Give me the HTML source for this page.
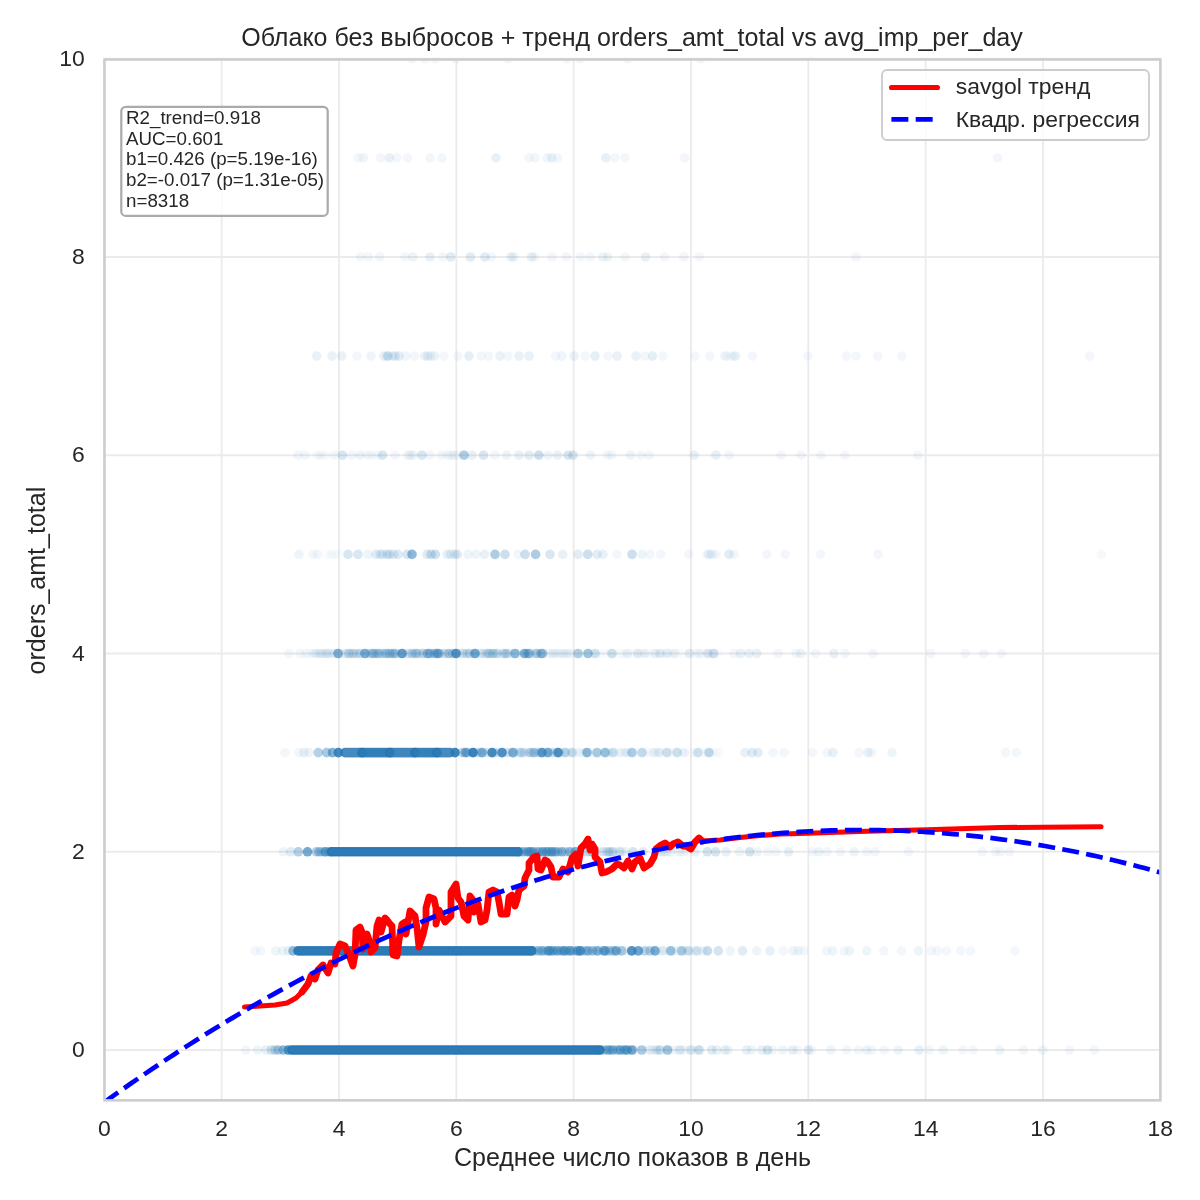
<!DOCTYPE html><html><head><meta charset="utf-8"><style>html,body{margin:0;padding:0;background:#fff;width:1200px;height:1200px;overflow:hidden}svg{display:block;will-change:transform}text{font-family:"Liberation Sans",sans-serif;fill:#262626}</style></head><body>
<svg width="1200" height="1200" viewBox="0 0 1200 1200">
<defs><clipPath id="ax"><rect x="104.45" y="59.50" width="1055.95" height="1040.85"/></clipPath></defs>
<path d="M104.33 59.50V1100.35M221.66 59.50V1100.35M339.00 59.50V1100.35M456.33 59.50V1100.35M573.67 59.50V1100.35M691.00 59.50V1100.35M808.33 59.50V1100.35M925.67 59.50V1100.35M1043.00 59.50V1100.35M1160.34 59.50V1100.35M104.45 1050.00H1160.40M104.45 851.75H1160.40M104.45 653.50H1160.40M104.45 455.25H1160.40M104.45 257.00H1160.40M104.45 58.75H1160.40" stroke="#ebebeb" stroke-width="1.8" fill="none"/>
<g clip-path="url(#ax)">
<g fill="#2c7bb6"><circle cx="245.8" cy="1050.0" r="4.8" fill-opacity="0.060"/><circle cx="257.5" cy="1050.0" r="4.8" fill-opacity="0.080"/><circle cx="265.8" cy="1050.0" r="4.8" fill-opacity="0.110"/><circle cx="271.3" cy="1050.0" r="4.8" fill-opacity="0.200"/><circle cx="275.0" cy="1050.0" r="4.8" fill-opacity="0.260"/><circle cx="278.3" cy="1050.0" r="4.8" fill-opacity="0.350"/><circle cx="283.3" cy="1050.0" r="4.8" fill-opacity="0.500"/><circle cx="288.3" cy="1050.0" r="4.8" fill-opacity="0.780"/><rect x="287.8" y="1045.8" width="316.4" height="8.4" rx="4.2" fill-opacity="1.000" stroke="#1f6fb0" stroke-opacity="0.800" stroke-width="1.2"/><circle cx="599.7" cy="1050.0" r="4.8" fill-opacity="0.311"/><circle cx="603.8" cy="1050.0" r="4.8" fill-opacity="0.343"/><circle cx="607.3" cy="1050.0" r="4.8" fill-opacity="0.464"/><circle cx="609.7" cy="1050.0" r="4.8" fill-opacity="0.418"/><circle cx="612.7" cy="1050.0" r="4.8" fill-opacity="0.535"/><circle cx="617.2" cy="1050.0" r="4.8" fill-opacity="0.414"/><circle cx="620.2" cy="1050.0" r="4.8" fill-opacity="0.528"/><circle cx="624.0" cy="1050.0" r="4.8" fill-opacity="0.481"/><circle cx="627.0" cy="1050.0" r="4.8" fill-opacity="0.622"/><circle cx="626.2" cy="1050.0" r="4.8" fill-opacity="0.043"/><circle cx="629.9" cy="1050.0" r="4.8" fill-opacity="0.024"/><circle cx="634.3" cy="1050.0" r="4.8" fill-opacity="0.027"/><circle cx="636.0" cy="1050.0" r="4.8" fill-opacity="0.025"/><circle cx="639.8" cy="1050.0" r="4.8" fill-opacity="0.024"/><circle cx="642.0" cy="1050.0" r="4.8" fill-opacity="0.044"/><circle cx="646.9" cy="1050.0" r="4.8" fill-opacity="0.029"/><circle cx="648.9" cy="1050.0" r="4.8" fill-opacity="0.026"/><circle cx="652.7" cy="1050.0" r="4.8" fill-opacity="0.048"/><circle cx="654.7" cy="1050.0" r="4.8" fill-opacity="0.041"/><circle cx="658.5" cy="1050.0" r="4.8" fill-opacity="0.032"/><circle cx="661.5" cy="1050.0" r="4.8" fill-opacity="0.026"/><circle cx="666.0" cy="1050.0" r="4.8" fill-opacity="0.031"/><circle cx="668.6" cy="1050.0" r="4.8" fill-opacity="0.027"/><circle cx="671.4" cy="1050.0" r="4.8" fill-opacity="0.035"/><circle cx="674.9" cy="1050.0" r="4.8" fill-opacity="0.045"/><circle cx="678.8" cy="1050.0" r="4.8" fill-opacity="0.051"/><circle cx="680.7" cy="1050.0" r="4.8" fill-opacity="0.053"/><circle cx="683.7" cy="1050.0" r="4.8" fill-opacity="0.038"/><circle cx="687.1" cy="1050.0" r="4.8" fill-opacity="0.036"/><circle cx="690.8" cy="1050.0" r="4.8" fill-opacity="0.046"/><circle cx="692.8" cy="1050.0" r="4.8" fill-opacity="0.036"/><circle cx="697.1" cy="1050.0" r="4.8" fill-opacity="0.047"/><circle cx="700.5" cy="1050.0" r="4.8" fill-opacity="0.039"/><circle cx="632.0" cy="1050.0" r="4.8" fill-opacity="0.650"/><circle cx="641.7" cy="1050.0" r="4.8" fill-opacity="0.350"/><circle cx="650.0" cy="1050.0" r="4.8" fill-opacity="0.080"/><circle cx="656.7" cy="1050.0" r="4.8" fill-opacity="0.140"/><circle cx="660.0" cy="1050.0" r="4.8" fill-opacity="0.200"/><circle cx="667.5" cy="1050.0" r="4.8" fill-opacity="0.420"/><circle cx="680.0" cy="1050.0" r="4.8" fill-opacity="0.080"/><circle cx="690.8" cy="1050.0" r="4.8" fill-opacity="0.110"/><circle cx="699.0" cy="1050.0" r="4.8" fill-opacity="0.200"/><circle cx="711.7" cy="1050.0" r="4.8" fill-opacity="0.140"/><circle cx="716.7" cy="1050.0" r="4.8" fill-opacity="0.110"/><circle cx="725.0" cy="1050.0" r="4.8" fill-opacity="0.110"/><circle cx="728.0" cy="1050.0" r="4.8" fill-opacity="0.080"/><circle cx="746.7" cy="1050.0" r="4.8" fill-opacity="0.110"/><circle cx="751.7" cy="1050.0" r="4.8" fill-opacity="0.080"/><circle cx="761.7" cy="1050.0" r="4.8" fill-opacity="0.110"/><circle cx="767.5" cy="1050.0" r="4.8" fill-opacity="0.200"/><circle cx="772.5" cy="1050.0" r="4.8" fill-opacity="0.060"/><circle cx="782.5" cy="1050.0" r="4.8" fill-opacity="0.080"/><circle cx="792.5" cy="1050.0" r="4.8" fill-opacity="0.110"/><circle cx="797.5" cy="1050.0" r="4.8" fill-opacity="0.060"/><circle cx="808.3" cy="1050.0" r="4.8" fill-opacity="0.140"/><circle cx="811.7" cy="1050.0" r="4.8" fill-opacity="0.060"/><circle cx="830.8" cy="1050.0" r="4.8" fill-opacity="0.080"/><circle cx="846.7" cy="1050.0" r="4.8" fill-opacity="0.060"/><circle cx="858.3" cy="1050.0" r="4.8" fill-opacity="0.060"/><circle cx="866.7" cy="1050.0" r="4.8" fill-opacity="0.080"/><circle cx="871.7" cy="1050.0" r="4.8" fill-opacity="0.060"/><circle cx="884.2" cy="1050.0" r="4.8" fill-opacity="0.060"/><circle cx="898.3" cy="1050.0" r="4.8" fill-opacity="0.080"/><circle cx="919.2" cy="1050.0" r="4.8" fill-opacity="0.110"/><circle cx="929.2" cy="1050.0" r="4.8" fill-opacity="0.060"/><circle cx="943.3" cy="1050.0" r="4.8" fill-opacity="0.080"/><circle cx="963.0" cy="1050.0" r="4.8" fill-opacity="0.060"/><circle cx="973.0" cy="1050.0" r="4.8" fill-opacity="0.060"/><circle cx="999.7" cy="1050.0" r="4.8" fill-opacity="0.080"/><circle cx="1023.3" cy="1050.0" r="4.8" fill-opacity="0.060"/><circle cx="1042.8" cy="1050.0" r="4.8" fill-opacity="0.080"/><circle cx="1069.5" cy="1050.0" r="4.8" fill-opacity="0.060"/><circle cx="1094.2" cy="1050.0" r="4.8" fill-opacity="0.060"/><circle cx="255.0" cy="950.9" r="4.8" fill-opacity="0.060"/><circle cx="260.8" cy="950.9" r="4.8" fill-opacity="0.060"/><circle cx="275.8" cy="950.9" r="4.8" fill-opacity="0.080"/><circle cx="282.5" cy="950.9" r="4.8" fill-opacity="0.080"/><circle cx="288.3" cy="950.9" r="4.8" fill-opacity="0.110"/><circle cx="293.0" cy="950.9" r="4.8" fill-opacity="0.500"/><rect x="293.8" y="946.7" width="242.4" height="8.4" rx="4.2" fill-opacity="1.000" stroke="#1f6fb0" stroke-opacity="0.800" stroke-width="1.2"/><circle cx="531.2" cy="950.9" r="4.8" fill-opacity="0.428"/><circle cx="535.4" cy="950.9" r="4.8" fill-opacity="0.334"/><circle cx="538.7" cy="950.9" r="4.8" fill-opacity="0.387"/><circle cx="542.0" cy="950.9" r="4.8" fill-opacity="0.485"/><circle cx="544.8" cy="950.9" r="4.8" fill-opacity="0.295"/><circle cx="548.2" cy="950.9" r="4.8" fill-opacity="0.628"/><circle cx="550.4" cy="950.9" r="4.8" fill-opacity="0.527"/><circle cx="553.4" cy="950.9" r="4.8" fill-opacity="0.558"/><circle cx="557.3" cy="950.9" r="4.8" fill-opacity="0.585"/><circle cx="561.2" cy="950.9" r="4.8" fill-opacity="0.461"/><circle cx="563.9" cy="950.9" r="4.8" fill-opacity="0.571"/><circle cx="566.2" cy="950.9" r="4.8" fill-opacity="0.454"/><circle cx="570.0" cy="950.9" r="4.8" fill-opacity="0.649"/><circle cx="573.1" cy="950.9" r="4.8" fill-opacity="0.371"/><circle cx="577.4" cy="950.9" r="4.8" fill-opacity="0.637"/><circle cx="580.0" cy="950.9" r="4.8" fill-opacity="0.540"/><circle cx="580.7" cy="950.9" r="4.8" fill-opacity="0.478"/><circle cx="584.1" cy="950.9" r="4.8" fill-opacity="0.258"/><circle cx="587.2" cy="950.9" r="4.8" fill-opacity="0.439"/><circle cx="589.0" cy="950.9" r="4.8" fill-opacity="0.267"/><circle cx="592.6" cy="950.9" r="4.8" fill-opacity="0.411"/><circle cx="596.9" cy="950.9" r="4.8" fill-opacity="0.484"/><circle cx="599.1" cy="950.9" r="4.8" fill-opacity="0.258"/><circle cx="603.7" cy="950.9" r="4.8" fill-opacity="0.460"/><circle cx="605.3" cy="950.9" r="4.8" fill-opacity="0.554"/><circle cx="609.3" cy="950.9" r="4.8" fill-opacity="0.380"/><circle cx="613.2" cy="950.9" r="4.8" fill-opacity="0.358"/><circle cx="616.2" cy="950.9" r="4.8" fill-opacity="0.551"/><circle cx="615.1" cy="950.9" r="4.8" fill-opacity="0.057"/><circle cx="619.0" cy="950.9" r="4.8" fill-opacity="0.041"/><circle cx="622.1" cy="950.9" r="4.8" fill-opacity="0.060"/><circle cx="625.6" cy="950.9" r="4.8" fill-opacity="0.058"/><circle cx="628.7" cy="950.9" r="4.8" fill-opacity="0.028"/><circle cx="632.0" cy="950.9" r="4.8" fill-opacity="0.064"/><circle cx="634.9" cy="950.9" r="4.8" fill-opacity="0.044"/><circle cx="638.2" cy="950.9" r="4.8" fill-opacity="0.049"/><circle cx="640.5" cy="950.9" r="4.8" fill-opacity="0.043"/><circle cx="644.4" cy="950.9" r="4.8" fill-opacity="0.048"/><circle cx="648.1" cy="950.9" r="4.8" fill-opacity="0.052"/><circle cx="650.7" cy="950.9" r="4.8" fill-opacity="0.045"/><circle cx="653.9" cy="950.9" r="4.8" fill-opacity="0.060"/><circle cx="657.7" cy="950.9" r="4.8" fill-opacity="0.057"/><circle cx="661.3" cy="950.9" r="4.8" fill-opacity="0.046"/><circle cx="662.7" cy="950.9" r="4.8" fill-opacity="0.029"/><circle cx="665.9" cy="950.9" r="4.8" fill-opacity="0.029"/><circle cx="669.5" cy="950.9" r="4.8" fill-opacity="0.055"/><circle cx="673.0" cy="950.9" r="4.8" fill-opacity="0.062"/><circle cx="677.1" cy="950.9" r="4.8" fill-opacity="0.055"/><circle cx="679.7" cy="950.9" r="4.8" fill-opacity="0.051"/><circle cx="683.5" cy="950.9" r="4.8" fill-opacity="0.028"/><circle cx="685.8" cy="950.9" r="4.8" fill-opacity="0.050"/><circle cx="689.8" cy="950.9" r="4.8" fill-opacity="0.029"/><circle cx="692.2" cy="950.9" r="4.8" fill-opacity="0.038"/><circle cx="695.1" cy="950.9" r="4.8" fill-opacity="0.038"/><circle cx="697.9" cy="950.9" r="4.8" fill-opacity="0.053"/><circle cx="701.9" cy="950.9" r="4.8" fill-opacity="0.060"/><circle cx="704.3" cy="950.9" r="4.8" fill-opacity="0.040"/><circle cx="621.7" cy="950.9" r="4.8" fill-opacity="0.350"/><circle cx="631.7" cy="950.9" r="4.8" fill-opacity="0.780"/><circle cx="638.3" cy="950.9" r="4.8" fill-opacity="0.650"/><circle cx="645.0" cy="950.9" r="4.8" fill-opacity="0.260"/><circle cx="650.0" cy="950.9" r="4.8" fill-opacity="0.260"/><circle cx="655.0" cy="950.9" r="4.8" fill-opacity="0.575"/><circle cx="663.3" cy="950.9" r="4.8" fill-opacity="0.080"/><circle cx="670.8" cy="950.9" r="4.8" fill-opacity="0.420"/><circle cx="681.7" cy="950.9" r="4.8" fill-opacity="0.350"/><circle cx="688.3" cy="950.9" r="4.8" fill-opacity="0.200"/><circle cx="696.7" cy="950.9" r="4.8" fill-opacity="0.140"/><circle cx="707.5" cy="950.9" r="4.8" fill-opacity="0.260"/><circle cx="718.3" cy="950.9" r="4.8" fill-opacity="0.200"/><circle cx="730.0" cy="950.9" r="4.8" fill-opacity="0.080"/><circle cx="742.5" cy="950.9" r="4.8" fill-opacity="0.140"/><circle cx="756.7" cy="950.9" r="4.8" fill-opacity="0.080"/><circle cx="770.0" cy="950.9" r="4.8" fill-opacity="0.110"/><circle cx="783.3" cy="950.9" r="4.8" fill-opacity="0.060"/><circle cx="793.3" cy="950.9" r="4.8" fill-opacity="0.080"/><circle cx="798.3" cy="950.9" r="4.8" fill-opacity="0.080"/><circle cx="803.5" cy="950.9" r="4.8" fill-opacity="0.060"/><circle cx="826.5" cy="950.9" r="4.8" fill-opacity="0.060"/><circle cx="832.7" cy="950.9" r="4.8" fill-opacity="0.080"/><circle cx="844.2" cy="950.9" r="4.8" fill-opacity="0.060"/><circle cx="849.4" cy="950.9" r="4.8" fill-opacity="0.080"/><circle cx="866.7" cy="950.9" r="4.8" fill-opacity="0.080"/><circle cx="883.8" cy="950.9" r="4.8" fill-opacity="0.060"/><circle cx="901.5" cy="950.9" r="4.8" fill-opacity="0.060"/><circle cx="918.5" cy="950.9" r="4.8" fill-opacity="0.080"/><circle cx="931.3" cy="950.9" r="4.8" fill-opacity="0.060"/><circle cx="937.2" cy="950.9" r="4.8" fill-opacity="0.060"/><circle cx="946.5" cy="950.9" r="4.8" fill-opacity="0.060"/><circle cx="960.5" cy="950.9" r="4.8" fill-opacity="0.060"/><circle cx="970.5" cy="950.9" r="4.8" fill-opacity="0.060"/><circle cx="1015.0" cy="950.9" r="4.8" fill-opacity="0.060"/><circle cx="283.3" cy="851.8" r="4.8" fill-opacity="0.080"/><circle cx="290.8" cy="851.8" r="4.8" fill-opacity="0.140"/><circle cx="298.3" cy="851.8" r="4.8" fill-opacity="0.350"/><circle cx="307.5" cy="851.8" r="4.8" fill-opacity="0.650"/><circle cx="316.1" cy="851.8" r="4.8" fill-opacity="0.332"/><circle cx="318.9" cy="851.8" r="4.8" fill-opacity="0.391"/><circle cx="321.4" cy="851.8" r="4.8" fill-opacity="0.247"/><circle cx="324.1" cy="851.8" r="4.8" fill-opacity="0.235"/><circle cx="325.4" cy="851.8" r="4.8" fill-opacity="0.599"/><circle cx="328.9" cy="851.8" r="4.8" fill-opacity="0.472"/><circle cx="331.1" cy="851.8" r="4.8" fill-opacity="0.330"/><rect x="327.5" y="847.6" width="194.7" height="8.4" rx="4.2" fill-opacity="1.000" stroke="#1f6fb0" stroke-opacity="0.800" stroke-width="1.2"/><circle cx="518.4" cy="851.8" r="4.8" fill-opacity="0.509"/><circle cx="521.1" cy="851.8" r="4.8" fill-opacity="0.324"/><circle cx="523.8" cy="851.8" r="4.8" fill-opacity="0.441"/><circle cx="527.9" cy="851.8" r="4.8" fill-opacity="0.606"/><circle cx="530.5" cy="851.8" r="4.8" fill-opacity="0.555"/><circle cx="532.9" cy="851.8" r="4.8" fill-opacity="0.497"/><circle cx="536.3" cy="851.8" r="4.8" fill-opacity="0.352"/><circle cx="539.2" cy="851.8" r="4.8" fill-opacity="0.445"/><circle cx="542.7" cy="851.8" r="4.8" fill-opacity="0.592"/><circle cx="546.4" cy="851.8" r="4.8" fill-opacity="0.514"/><circle cx="548.4" cy="851.8" r="4.8" fill-opacity="0.411"/><circle cx="551.4" cy="851.8" r="4.8" fill-opacity="0.525"/><circle cx="552.5" cy="851.8" r="4.8" fill-opacity="0.260"/><circle cx="555.1" cy="851.8" r="4.8" fill-opacity="0.464"/><circle cx="557.7" cy="851.8" r="4.8" fill-opacity="0.344"/><circle cx="561.8" cy="851.8" r="4.8" fill-opacity="0.491"/><circle cx="565.2" cy="851.8" r="4.8" fill-opacity="0.268"/><circle cx="569.2" cy="851.8" r="4.8" fill-opacity="0.379"/><circle cx="571.1" cy="851.8" r="4.8" fill-opacity="0.244"/><circle cx="575.5" cy="851.8" r="4.8" fill-opacity="0.405"/><circle cx="575.9" cy="851.8" r="4.8" fill-opacity="0.056"/><circle cx="577.8" cy="851.8" r="4.8" fill-opacity="0.045"/><circle cx="581.1" cy="851.8" r="4.8" fill-opacity="0.060"/><circle cx="584.5" cy="851.8" r="4.8" fill-opacity="0.046"/><circle cx="587.2" cy="851.8" r="4.8" fill-opacity="0.041"/><circle cx="589.7" cy="851.8" r="4.8" fill-opacity="0.074"/><circle cx="593.1" cy="851.8" r="4.8" fill-opacity="0.066"/><circle cx="596.1" cy="851.8" r="4.8" fill-opacity="0.048"/><circle cx="600.0" cy="851.8" r="4.8" fill-opacity="0.064"/><circle cx="603.4" cy="851.8" r="4.8" fill-opacity="0.052"/><circle cx="607.0" cy="851.8" r="4.8" fill-opacity="0.073"/><circle cx="609.4" cy="851.8" r="4.8" fill-opacity="0.058"/><circle cx="613.0" cy="851.8" r="4.8" fill-opacity="0.079"/><circle cx="616.1" cy="851.8" r="4.8" fill-opacity="0.070"/><circle cx="619.4" cy="851.8" r="4.8" fill-opacity="0.078"/><circle cx="622.2" cy="851.8" r="4.8" fill-opacity="0.064"/><circle cx="625.7" cy="851.8" r="4.8" fill-opacity="0.079"/><circle cx="575.0" cy="851.8" r="4.8" fill-opacity="0.260"/><circle cx="586.8" cy="851.8" r="4.8" fill-opacity="0.190"/><circle cx="592.0" cy="851.8" r="4.8" fill-opacity="0.247"/><circle cx="594.6" cy="851.8" r="4.8" fill-opacity="0.174"/><circle cx="603.2" cy="851.8" r="4.8" fill-opacity="0.103"/><circle cx="607.0" cy="851.8" r="4.8" fill-opacity="0.093"/><circle cx="609.2" cy="851.8" r="4.8" fill-opacity="0.173"/><circle cx="612.2" cy="851.8" r="4.8" fill-opacity="0.171"/><circle cx="620.0" cy="851.8" r="4.8" fill-opacity="0.110"/><circle cx="633.0" cy="851.8" r="4.8" fill-opacity="0.200"/><circle cx="643.0" cy="851.8" r="4.8" fill-opacity="0.140"/><circle cx="657.9" cy="851.8" r="4.8" fill-opacity="0.074"/><circle cx="661.1" cy="851.8" r="4.8" fill-opacity="0.068"/><circle cx="663.4" cy="851.8" r="4.8" fill-opacity="0.111"/><circle cx="666.8" cy="851.8" r="4.8" fill-opacity="0.085"/><circle cx="670.7" cy="851.8" r="4.8" fill-opacity="0.085"/><circle cx="678.4" cy="851.8" r="4.8" fill-opacity="0.062"/><circle cx="680.4" cy="851.8" r="4.8" fill-opacity="0.042"/><circle cx="683.4" cy="851.8" r="4.8" fill-opacity="0.038"/><circle cx="686.5" cy="851.8" r="4.8" fill-opacity="0.051"/><circle cx="695.0" cy="851.8" r="4.8" fill-opacity="0.110"/><circle cx="707.3" cy="851.8" r="4.8" fill-opacity="0.200"/><circle cx="715.6" cy="851.8" r="4.8" fill-opacity="0.200"/><circle cx="726.0" cy="851.8" r="4.8" fill-opacity="0.110"/><circle cx="739.6" cy="851.8" r="4.8" fill-opacity="0.080"/><circle cx="749.6" cy="851.8" r="4.8" fill-opacity="0.200"/><circle cx="757.3" cy="851.8" r="4.8" fill-opacity="0.080"/><circle cx="767.7" cy="851.8" r="4.8" fill-opacity="0.060"/><circle cx="776.0" cy="851.8" r="4.8" fill-opacity="0.060"/><circle cx="788.5" cy="851.8" r="4.8" fill-opacity="0.110"/><circle cx="812.5" cy="851.8" r="4.8" fill-opacity="0.060"/><circle cx="818.8" cy="851.8" r="4.8" fill-opacity="0.080"/><circle cx="827.0" cy="851.8" r="4.8" fill-opacity="0.060"/><circle cx="840.6" cy="851.8" r="4.8" fill-opacity="0.060"/><circle cx="854.2" cy="851.8" r="4.8" fill-opacity="0.080"/><circle cx="866.7" cy="851.8" r="4.8" fill-opacity="0.060"/><circle cx="875.0" cy="851.8" r="4.8" fill-opacity="0.060"/><circle cx="908.4" cy="851.8" r="4.8" fill-opacity="0.060"/><circle cx="982.2" cy="851.8" r="4.8" fill-opacity="0.060"/><circle cx="995.5" cy="851.8" r="4.8" fill-opacity="0.060"/><circle cx="1000.2" cy="851.8" r="4.8" fill-opacity="0.060"/><circle cx="1009.5" cy="851.8" r="4.8" fill-opacity="0.060"/><circle cx="285.0" cy="752.6" r="4.8" fill-opacity="0.060"/><circle cx="299.0" cy="752.6" r="4.8" fill-opacity="0.060"/><circle cx="304.0" cy="752.6" r="4.8" fill-opacity="0.110"/><circle cx="309.0" cy="752.6" r="4.8" fill-opacity="0.080"/><circle cx="318.3" cy="752.6" r="4.8" fill-opacity="0.350"/><circle cx="326.7" cy="752.6" r="4.8" fill-opacity="0.420"/><circle cx="332.5" cy="752.6" r="4.8" fill-opacity="0.575"/><circle cx="338.3" cy="752.6" r="4.8" fill-opacity="0.880"/><rect x="340.8" y="748.4" width="25.4" height="8.4" rx="4.2" fill-opacity="0.880" stroke="#1f6fb0" stroke-opacity="0.704" stroke-width="1.2"/><rect x="357.8" y="748.4" width="36.4" height="8.4" rx="4.2" fill-opacity="0.975" stroke="#1f6fb0" stroke-opacity="0.780" stroke-width="1.2"/><rect x="385.8" y="748.4" width="33.4" height="8.4" rx="4.2" fill-opacity="0.915" stroke="#1f6fb0" stroke-opacity="0.732" stroke-width="1.2"/><rect x="410.8" y="748.4" width="30.4" height="8.4" rx="4.2" fill-opacity="0.960" stroke="#1f6fb0" stroke-opacity="0.768" stroke-width="1.2"/><rect x="432.8" y="748.4" width="21.4" height="8.4" rx="4.2" fill-opacity="0.880" stroke="#1f6fb0" stroke-opacity="0.704" stroke-width="1.2"/><circle cx="455.0" cy="752.6" r="4.8" fill-opacity="0.915"/><circle cx="462.5" cy="752.6" r="4.8" fill-opacity="0.334"/><circle cx="465.4" cy="752.6" r="4.8" fill-opacity="0.528"/><circle cx="467.1" cy="752.6" r="4.8" fill-opacity="0.342"/><circle cx="473.0" cy="752.6" r="4.8" fill-opacity="0.915"/><circle cx="482.0" cy="752.6" r="4.8" fill-opacity="0.500"/><circle cx="492.0" cy="752.6" r="4.8" fill-opacity="0.830"/><circle cx="502.0" cy="752.6" r="4.8" fill-opacity="0.780"/><circle cx="513.0" cy="752.6" r="4.8" fill-opacity="0.500"/><circle cx="522.0" cy="752.6" r="4.8" fill-opacity="0.110"/><circle cx="529.7" cy="752.6" r="4.8" fill-opacity="0.158"/><circle cx="533.4" cy="752.6" r="4.8" fill-opacity="0.174"/><circle cx="534.1" cy="752.6" r="4.8" fill-opacity="0.213"/><circle cx="542.0" cy="752.6" r="4.8" fill-opacity="0.715"/><circle cx="548.0" cy="752.6" r="4.8" fill-opacity="0.575"/><circle cx="558.0" cy="752.6" r="4.8" fill-opacity="0.780"/><circle cx="565.0" cy="752.6" r="4.8" fill-opacity="0.260"/><circle cx="572.0" cy="752.6" r="4.8" fill-opacity="0.200"/><circle cx="587.0" cy="752.6" r="4.8" fill-opacity="0.500"/><circle cx="597.0" cy="752.6" r="4.8" fill-opacity="0.350"/><circle cx="605.0" cy="752.6" r="4.8" fill-opacity="0.420"/><circle cx="613.0" cy="752.6" r="4.8" fill-opacity="0.200"/><circle cx="627.0" cy="752.6" r="4.8" fill-opacity="0.080"/><circle cx="632.0" cy="752.6" r="4.8" fill-opacity="0.350"/><circle cx="642.0" cy="752.6" r="4.8" fill-opacity="0.260"/><circle cx="654.0" cy="752.6" r="4.8" fill-opacity="0.080"/><circle cx="659.0" cy="752.6" r="4.8" fill-opacity="0.110"/><circle cx="667.0" cy="752.6" r="4.8" fill-opacity="0.200"/><circle cx="677.0" cy="752.6" r="4.8" fill-opacity="0.200"/><circle cx="684.0" cy="752.6" r="4.8" fill-opacity="0.060"/><circle cx="698.0" cy="752.6" r="4.8" fill-opacity="0.200"/><circle cx="709.0" cy="752.6" r="4.8" fill-opacity="0.260"/><circle cx="745.0" cy="752.6" r="4.8" fill-opacity="0.110"/><circle cx="752.0" cy="752.6" r="4.8" fill-opacity="0.140"/><circle cx="758.0" cy="752.6" r="4.8" fill-opacity="0.140"/><circle cx="773.0" cy="752.6" r="4.8" fill-opacity="0.060"/><circle cx="784.0" cy="752.6" r="4.8" fill-opacity="0.060"/><circle cx="812.5" cy="752.6" r="4.8" fill-opacity="0.060"/><circle cx="827.0" cy="752.6" r="4.8" fill-opacity="0.060"/><circle cx="833.0" cy="752.6" r="4.8" fill-opacity="0.110"/><circle cx="859.0" cy="752.6" r="4.8" fill-opacity="0.060"/><circle cx="868.0" cy="752.6" r="4.8" fill-opacity="0.110"/><circle cx="872.0" cy="752.6" r="4.8" fill-opacity="0.060"/><circle cx="892.0" cy="752.6" r="4.8" fill-opacity="0.080"/><circle cx="1005.5" cy="752.6" r="4.8" fill-opacity="0.060"/><circle cx="1016.5" cy="752.6" r="4.8" fill-opacity="0.060"/><circle cx="470.3" cy="752.6" r="4.8" fill-opacity="0.077"/><circle cx="473.5" cy="752.6" r="4.8" fill-opacity="0.112"/><circle cx="476.7" cy="752.6" r="4.8" fill-opacity="0.150"/><circle cx="479.5" cy="752.6" r="4.8" fill-opacity="0.158"/><circle cx="482.1" cy="752.6" r="4.8" fill-opacity="0.165"/><circle cx="485.2" cy="752.6" r="4.8" fill-opacity="0.105"/><circle cx="488.7" cy="752.6" r="4.8" fill-opacity="0.118"/><circle cx="493.1" cy="752.6" r="4.8" fill-opacity="0.134"/><circle cx="494.8" cy="752.6" r="4.8" fill-opacity="0.154"/><circle cx="498.5" cy="752.6" r="4.8" fill-opacity="0.138"/><circle cx="502.8" cy="752.6" r="4.8" fill-opacity="0.135"/><circle cx="506.3" cy="752.6" r="4.8" fill-opacity="0.083"/><circle cx="508.5" cy="752.6" r="4.8" fill-opacity="0.131"/><circle cx="512.1" cy="752.6" r="4.8" fill-opacity="0.158"/><circle cx="514.3" cy="752.6" r="4.8" fill-opacity="0.114"/><circle cx="518.9" cy="752.6" r="4.8" fill-opacity="0.121"/><circle cx="520.8" cy="752.6" r="4.8" fill-opacity="0.166"/><circle cx="524.1" cy="752.6" r="4.8" fill-opacity="0.157"/><circle cx="528.1" cy="752.6" r="4.8" fill-opacity="0.081"/><circle cx="531.0" cy="752.6" r="4.8" fill-opacity="0.165"/><circle cx="535.2" cy="752.6" r="4.8" fill-opacity="0.082"/><circle cx="538.1" cy="752.6" r="4.8" fill-opacity="0.157"/><circle cx="539.9" cy="752.6" r="4.8" fill-opacity="0.157"/><circle cx="544.7" cy="752.6" r="4.8" fill-opacity="0.090"/><circle cx="546.6" cy="752.6" r="4.8" fill-opacity="0.086"/><circle cx="551.1" cy="752.6" r="4.8" fill-opacity="0.081"/><circle cx="553.3" cy="752.6" r="4.8" fill-opacity="0.158"/><circle cx="556.2" cy="752.6" r="4.8" fill-opacity="0.103"/><circle cx="559.3" cy="752.6" r="4.8" fill-opacity="0.138"/><circle cx="560.3" cy="752.6" r="4.8" fill-opacity="0.060"/><circle cx="564.2" cy="752.6" r="4.8" fill-opacity="0.036"/><circle cx="566.0" cy="752.6" r="4.8" fill-opacity="0.054"/><circle cx="569.0" cy="752.6" r="4.8" fill-opacity="0.053"/><circle cx="573.0" cy="752.6" r="4.8" fill-opacity="0.044"/><circle cx="576.7" cy="752.6" r="4.8" fill-opacity="0.044"/><circle cx="579.4" cy="752.6" r="4.8" fill-opacity="0.050"/><circle cx="582.7" cy="752.6" r="4.8" fill-opacity="0.047"/><circle cx="585.3" cy="752.6" r="4.8" fill-opacity="0.062"/><circle cx="588.4" cy="752.6" r="4.8" fill-opacity="0.037"/><circle cx="593.2" cy="752.6" r="4.8" fill-opacity="0.042"/><circle cx="596.3" cy="752.6" r="4.8" fill-opacity="0.038"/><circle cx="598.4" cy="752.6" r="4.8" fill-opacity="0.033"/><circle cx="602.7" cy="752.6" r="4.8" fill-opacity="0.033"/><circle cx="606.4" cy="752.6" r="4.8" fill-opacity="0.064"/><circle cx="608.9" cy="752.6" r="4.8" fill-opacity="0.056"/><circle cx="611.8" cy="752.6" r="4.8" fill-opacity="0.033"/><circle cx="614.6" cy="752.6" r="4.8" fill-opacity="0.031"/><circle cx="619.3" cy="752.6" r="4.8" fill-opacity="0.057"/><circle cx="621.7" cy="752.6" r="4.8" fill-opacity="0.039"/><circle cx="624.7" cy="752.6" r="4.8" fill-opacity="0.033"/><circle cx="625.0" cy="752.6" r="4.8" fill-opacity="0.026"/><circle cx="629.0" cy="752.6" r="4.8" fill-opacity="0.022"/><circle cx="632.1" cy="752.6" r="4.8" fill-opacity="0.019"/><circle cx="634.9" cy="752.6" r="4.8" fill-opacity="0.014"/><circle cx="636.7" cy="752.6" r="4.8" fill-opacity="0.014"/><circle cx="641.0" cy="752.6" r="4.8" fill-opacity="0.015"/><circle cx="644.7" cy="752.6" r="4.8" fill-opacity="0.014"/><circle cx="646.8" cy="752.6" r="4.8" fill-opacity="0.026"/><circle cx="650.5" cy="752.6" r="4.8" fill-opacity="0.020"/><circle cx="653.1" cy="752.6" r="4.8" fill-opacity="0.018"/><circle cx="656.6" cy="752.6" r="4.8" fill-opacity="0.024"/><circle cx="658.9" cy="752.6" r="4.8" fill-opacity="0.015"/><circle cx="662.2" cy="752.6" r="4.8" fill-opacity="0.018"/><circle cx="666.7" cy="752.6" r="4.8" fill-opacity="0.026"/><circle cx="669.9" cy="752.6" r="4.8" fill-opacity="0.011"/><circle cx="672.0" cy="752.6" r="4.8" fill-opacity="0.023"/><circle cx="676.6" cy="752.6" r="4.8" fill-opacity="0.022"/><circle cx="677.8" cy="752.6" r="4.8" fill-opacity="0.024"/><circle cx="682.3" cy="752.6" r="4.8" fill-opacity="0.018"/><circle cx="684.2" cy="752.6" r="4.8" fill-opacity="0.022"/><circle cx="689.1" cy="752.6" r="4.8" fill-opacity="0.012"/><circle cx="692.2" cy="752.6" r="4.8" fill-opacity="0.023"/><circle cx="694.2" cy="752.6" r="4.8" fill-opacity="0.021"/><circle cx="696.9" cy="752.6" r="4.8" fill-opacity="0.024"/><circle cx="701.4" cy="752.6" r="4.8" fill-opacity="0.021"/><circle cx="704.8" cy="752.6" r="4.8" fill-opacity="0.023"/><circle cx="707.9" cy="752.6" r="4.8" fill-opacity="0.026"/><circle cx="710.5" cy="752.6" r="4.8" fill-opacity="0.025"/><circle cx="713.2" cy="752.6" r="4.8" fill-opacity="0.023"/><circle cx="716.6" cy="752.6" r="4.8" fill-opacity="0.023"/><circle cx="719.2" cy="752.6" r="4.8" fill-opacity="0.026"/><circle cx="289.0" cy="653.5" r="4.8" fill-opacity="0.060"/><circle cx="300.0" cy="653.5" r="4.8" fill-opacity="0.060"/><circle cx="306.0" cy="653.5" r="4.8" fill-opacity="0.060"/><circle cx="313.9" cy="653.5" r="4.8" fill-opacity="0.033"/><circle cx="316.0" cy="653.5" r="4.8" fill-opacity="0.046"/><circle cx="320.4" cy="653.5" r="4.8" fill-opacity="0.072"/><circle cx="323.6" cy="653.5" r="4.8" fill-opacity="0.037"/><circle cx="326.5" cy="653.5" r="4.8" fill-opacity="0.074"/><circle cx="329.0" cy="653.5" r="4.8" fill-opacity="0.055"/><circle cx="332.9" cy="653.5" r="4.8" fill-opacity="0.051"/><circle cx="338.0" cy="653.5" r="4.8" fill-opacity="0.575"/><circle cx="345.9" cy="653.5" r="4.8" fill-opacity="0.095"/><circle cx="348.8" cy="653.5" r="4.8" fill-opacity="0.201"/><circle cx="351.4" cy="653.5" r="4.8" fill-opacity="0.135"/><circle cx="353.6" cy="653.5" r="4.8" fill-opacity="0.114"/><circle cx="356.6" cy="653.5" r="4.8" fill-opacity="0.135"/><circle cx="359.9" cy="653.5" r="4.8" fill-opacity="0.187"/><circle cx="365.0" cy="653.5" r="4.8" fill-opacity="0.575"/><circle cx="370.3" cy="653.5" r="4.8" fill-opacity="0.199"/><circle cx="373.2" cy="653.5" r="4.8" fill-opacity="0.375"/><circle cx="376.1" cy="653.5" r="4.8" fill-opacity="0.183"/><circle cx="378.5" cy="653.5" r="4.8" fill-opacity="0.306"/><circle cx="381.6" cy="653.5" r="4.8" fill-opacity="0.190"/><circle cx="385.2" cy="653.5" r="4.8" fill-opacity="0.262"/><circle cx="389.7" cy="653.5" r="4.8" fill-opacity="0.321"/><circle cx="392.7" cy="653.5" r="4.8" fill-opacity="0.268"/><circle cx="395.1" cy="653.5" r="4.8" fill-opacity="0.334"/><circle cx="387.0" cy="653.5" r="4.8" fill-opacity="0.200"/><circle cx="402.0" cy="653.5" r="4.8" fill-opacity="0.715"/><circle cx="408.1" cy="653.5" r="4.8" fill-opacity="0.139"/><circle cx="412.0" cy="653.5" r="4.8" fill-opacity="0.220"/><circle cx="414.6" cy="653.5" r="4.8" fill-opacity="0.163"/><circle cx="416.6" cy="653.5" r="4.8" fill-opacity="0.240"/><circle cx="419.5" cy="653.5" r="4.8" fill-opacity="0.117"/><circle cx="423.2" cy="653.5" r="4.8" fill-opacity="0.223"/><circle cx="427.6" cy="653.5" r="4.8" fill-opacity="0.404"/><circle cx="429.8" cy="653.5" r="4.8" fill-opacity="0.400"/><circle cx="434.5" cy="653.5" r="4.8" fill-opacity="0.330"/><circle cx="437.1" cy="653.5" r="4.8" fill-opacity="0.537"/><circle cx="439.1" cy="653.5" r="4.8" fill-opacity="0.404"/><circle cx="444.4" cy="653.5" r="4.8" fill-opacity="0.158"/><circle cx="448.8" cy="653.5" r="4.8" fill-opacity="0.316"/><circle cx="452.6" cy="653.5" r="4.8" fill-opacity="0.246"/><circle cx="456.0" cy="653.5" r="4.8" fill-opacity="0.780"/><circle cx="462.8" cy="653.5" r="4.8" fill-opacity="0.181"/><circle cx="466.4" cy="653.5" r="4.8" fill-opacity="0.147"/><circle cx="469.6" cy="653.5" r="4.8" fill-opacity="0.156"/><circle cx="475.0" cy="653.5" r="4.8" fill-opacity="0.650"/><circle cx="481.3" cy="653.5" r="4.8" fill-opacity="0.132"/><circle cx="485.3" cy="653.5" r="4.8" fill-opacity="0.112"/><circle cx="488.1" cy="653.5" r="4.8" fill-opacity="0.235"/><circle cx="490.5" cy="653.5" r="4.8" fill-opacity="0.144"/><circle cx="493.0" cy="653.5" r="4.8" fill-opacity="0.211"/><circle cx="496.8" cy="653.5" r="4.8" fill-opacity="0.237"/><circle cx="503.0" cy="653.5" r="4.8" fill-opacity="0.127"/><circle cx="505.4" cy="653.5" r="4.8" fill-opacity="0.239"/><circle cx="507.5" cy="653.5" r="4.8" fill-opacity="0.116"/><circle cx="515.0" cy="653.5" r="4.8" fill-opacity="0.500"/><circle cx="524.5" cy="653.5" r="4.8" fill-opacity="0.550"/><circle cx="527.8" cy="653.5" r="4.8" fill-opacity="0.365"/><circle cx="529.7" cy="653.5" r="4.8" fill-opacity="0.313"/><circle cx="536.4" cy="653.5" r="4.8" fill-opacity="0.353"/><circle cx="540.9" cy="653.5" r="4.8" fill-opacity="0.310"/><circle cx="542.5" cy="653.5" r="4.8" fill-opacity="0.375"/><circle cx="552.9" cy="653.5" r="4.8" fill-opacity="0.029"/><circle cx="555.8" cy="653.5" r="4.8" fill-opacity="0.043"/><circle cx="560.7" cy="653.5" r="4.8" fill-opacity="0.037"/><circle cx="563.1" cy="653.5" r="4.8" fill-opacity="0.034"/><circle cx="567.5" cy="653.5" r="4.8" fill-opacity="0.037"/><circle cx="578.0" cy="653.5" r="4.8" fill-opacity="0.350"/><circle cx="588.0" cy="653.5" r="4.8" fill-opacity="0.420"/><circle cx="595.0" cy="653.5" r="4.8" fill-opacity="0.200"/><circle cx="612.0" cy="653.5" r="4.8" fill-opacity="0.200"/><circle cx="627.0" cy="653.5" r="4.8" fill-opacity="0.080"/><circle cx="638.0" cy="653.5" r="4.8" fill-opacity="0.110"/><circle cx="645.0" cy="653.5" r="4.8" fill-opacity="0.080"/><circle cx="655.0" cy="653.5" r="4.8" fill-opacity="0.080"/><circle cx="660.0" cy="653.5" r="4.8" fill-opacity="0.110"/><circle cx="667.0" cy="653.5" r="4.8" fill-opacity="0.080"/><circle cx="675.0" cy="653.5" r="4.8" fill-opacity="0.060"/><circle cx="689.6" cy="653.5" r="4.8" fill-opacity="0.110"/><circle cx="699.0" cy="653.5" r="4.8" fill-opacity="0.080"/><circle cx="708.0" cy="653.5" r="4.8" fill-opacity="0.140"/><circle cx="713.5" cy="653.5" r="4.8" fill-opacity="0.200"/><circle cx="734.0" cy="653.5" r="4.8" fill-opacity="0.060"/><circle cx="740.6" cy="653.5" r="4.8" fill-opacity="0.110"/><circle cx="749.0" cy="653.5" r="4.8" fill-opacity="0.110"/><circle cx="757.0" cy="653.5" r="4.8" fill-opacity="0.110"/><circle cx="778.0" cy="653.5" r="4.8" fill-opacity="0.060"/><circle cx="796.0" cy="653.5" r="4.8" fill-opacity="0.060"/><circle cx="801.0" cy="653.5" r="4.8" fill-opacity="0.080"/><circle cx="815.6" cy="653.5" r="4.8" fill-opacity="0.060"/><circle cx="834.0" cy="653.5" r="4.8" fill-opacity="0.110"/><circle cx="845.0" cy="653.5" r="4.8" fill-opacity="0.060"/><circle cx="873.0" cy="653.5" r="4.8" fill-opacity="0.060"/><circle cx="930.6" cy="653.5" r="4.8" fill-opacity="0.060"/><circle cx="965.4" cy="653.5" r="4.8" fill-opacity="0.060"/><circle cx="983.8" cy="653.5" r="4.8" fill-opacity="0.060"/><circle cx="1001.5" cy="653.5" r="4.8" fill-opacity="0.060"/><circle cx="309.8" cy="653.5" r="4.8" fill-opacity="0.031"/><circle cx="313.6" cy="653.5" r="4.8" fill-opacity="0.031"/><circle cx="316.2" cy="653.5" r="4.8" fill-opacity="0.039"/><circle cx="319.2" cy="653.5" r="4.8" fill-opacity="0.062"/><circle cx="322.8" cy="653.5" r="4.8" fill-opacity="0.053"/><circle cx="326.3" cy="653.5" r="4.8" fill-opacity="0.051"/><circle cx="328.5" cy="653.5" r="4.8" fill-opacity="0.031"/><circle cx="331.9" cy="653.5" r="4.8" fill-opacity="0.036"/><circle cx="334.7" cy="653.5" r="4.8" fill-opacity="0.056"/><circle cx="339.4" cy="653.5" r="4.8" fill-opacity="0.046"/><circle cx="342.1" cy="653.5" r="4.8" fill-opacity="0.039"/><circle cx="345.5" cy="653.5" r="4.8" fill-opacity="0.063"/><circle cx="348.8" cy="653.5" r="4.8" fill-opacity="0.032"/><circle cx="352.3" cy="653.5" r="4.8" fill-opacity="0.035"/><circle cx="354.6" cy="653.5" r="4.8" fill-opacity="0.051"/><circle cx="358.8" cy="653.5" r="4.8" fill-opacity="0.032"/><circle cx="361.3" cy="653.5" r="4.8" fill-opacity="0.039"/><circle cx="364.3" cy="653.5" r="4.8" fill-opacity="0.054"/><circle cx="368.1" cy="653.5" r="4.8" fill-opacity="0.061"/><circle cx="371.2" cy="653.5" r="4.8" fill-opacity="0.059"/><circle cx="375.0" cy="653.5" r="4.8" fill-opacity="0.060"/><circle cx="377.3" cy="653.5" r="4.8" fill-opacity="0.040"/><circle cx="379.5" cy="653.5" r="4.8" fill-opacity="0.036"/><circle cx="383.3" cy="653.5" r="4.8" fill-opacity="0.055"/><circle cx="386.8" cy="653.5" r="4.8" fill-opacity="0.028"/><circle cx="390.6" cy="653.5" r="4.8" fill-opacity="0.043"/><circle cx="393.2" cy="653.5" r="4.8" fill-opacity="0.062"/><circle cx="397.0" cy="653.5" r="4.8" fill-opacity="0.061"/><circle cx="399.2" cy="653.5" r="4.8" fill-opacity="0.035"/><circle cx="402.9" cy="653.5" r="4.8" fill-opacity="0.054"/><circle cx="405.7" cy="653.5" r="4.8" fill-opacity="0.033"/><circle cx="409.2" cy="653.5" r="4.8" fill-opacity="0.057"/><circle cx="411.7" cy="653.5" r="4.8" fill-opacity="0.061"/><circle cx="415.7" cy="653.5" r="4.8" fill-opacity="0.054"/><circle cx="418.2" cy="653.5" r="4.8" fill-opacity="0.062"/><circle cx="422.7" cy="653.5" r="4.8" fill-opacity="0.035"/><circle cx="426.0" cy="653.5" r="4.8" fill-opacity="0.064"/><circle cx="427.8" cy="653.5" r="4.8" fill-opacity="0.042"/><circle cx="430.7" cy="653.5" r="4.8" fill-opacity="0.059"/><circle cx="433.9" cy="653.5" r="4.8" fill-opacity="0.064"/><circle cx="438.8" cy="653.5" r="4.8" fill-opacity="0.032"/><circle cx="441.9" cy="653.5" r="4.8" fill-opacity="0.041"/><circle cx="445.2" cy="653.5" r="4.8" fill-opacity="0.052"/><circle cx="447.9" cy="653.5" r="4.8" fill-opacity="0.056"/><circle cx="450.6" cy="653.5" r="4.8" fill-opacity="0.044"/><circle cx="454.0" cy="653.5" r="4.8" fill-opacity="0.041"/><circle cx="456.3" cy="653.5" r="4.8" fill-opacity="0.044"/><circle cx="459.7" cy="653.5" r="4.8" fill-opacity="0.057"/><circle cx="463.0" cy="653.5" r="4.8" fill-opacity="0.032"/><circle cx="467.1" cy="653.5" r="4.8" fill-opacity="0.042"/><circle cx="469.6" cy="653.5" r="4.8" fill-opacity="0.032"/><circle cx="469.5" cy="653.5" r="4.8" fill-opacity="0.060"/><circle cx="472.8" cy="653.5" r="4.8" fill-opacity="0.051"/><circle cx="476.6" cy="653.5" r="4.8" fill-opacity="0.030"/><circle cx="480.5" cy="653.5" r="4.8" fill-opacity="0.039"/><circle cx="482.3" cy="653.5" r="4.8" fill-opacity="0.038"/><circle cx="487.0" cy="653.5" r="4.8" fill-opacity="0.045"/><circle cx="489.5" cy="653.5" r="4.8" fill-opacity="0.039"/><circle cx="493.3" cy="653.5" r="4.8" fill-opacity="0.055"/><circle cx="495.5" cy="653.5" r="4.8" fill-opacity="0.039"/><circle cx="498.2" cy="653.5" r="4.8" fill-opacity="0.031"/><circle cx="503.1" cy="653.5" r="4.8" fill-opacity="0.039"/><circle cx="506.3" cy="653.5" r="4.8" fill-opacity="0.042"/><circle cx="508.7" cy="653.5" r="4.8" fill-opacity="0.054"/><circle cx="511.3" cy="653.5" r="4.8" fill-opacity="0.051"/><circle cx="514.7" cy="653.5" r="4.8" fill-opacity="0.046"/><circle cx="517.6" cy="653.5" r="4.8" fill-opacity="0.053"/><circle cx="522.3" cy="653.5" r="4.8" fill-opacity="0.053"/><circle cx="525.8" cy="653.5" r="4.8" fill-opacity="0.055"/><circle cx="527.2" cy="653.5" r="4.8" fill-opacity="0.050"/><circle cx="530.8" cy="653.5" r="4.8" fill-opacity="0.036"/><circle cx="534.3" cy="653.5" r="4.8" fill-opacity="0.032"/><circle cx="538.6" cy="653.5" r="4.8" fill-opacity="0.052"/><circle cx="540.9" cy="653.5" r="4.8" fill-opacity="0.036"/><circle cx="543.4" cy="653.5" r="4.8" fill-opacity="0.047"/><circle cx="548.3" cy="653.5" r="4.8" fill-opacity="0.039"/><circle cx="550.4" cy="653.5" r="4.8" fill-opacity="0.041"/><circle cx="553.1" cy="653.5" r="4.8" fill-opacity="0.063"/><circle cx="557.2" cy="653.5" r="4.8" fill-opacity="0.040"/><circle cx="559.7" cy="653.5" r="4.8" fill-opacity="0.040"/><circle cx="564.2" cy="653.5" r="4.8" fill-opacity="0.042"/><circle cx="566.6" cy="653.5" r="4.8" fill-opacity="0.056"/><circle cx="570.5" cy="653.5" r="4.8" fill-opacity="0.045"/><circle cx="569.8" cy="653.5" r="4.8" fill-opacity="0.014"/><circle cx="573.8" cy="653.5" r="4.8" fill-opacity="0.022"/><circle cx="576.4" cy="653.5" r="4.8" fill-opacity="0.020"/><circle cx="580.5" cy="653.5" r="4.8" fill-opacity="0.012"/><circle cx="582.5" cy="653.5" r="4.8" fill-opacity="0.025"/><circle cx="585.1" cy="653.5" r="4.8" fill-opacity="0.018"/><circle cx="588.9" cy="653.5" r="4.8" fill-opacity="0.022"/><circle cx="591.8" cy="653.5" r="4.8" fill-opacity="0.012"/><circle cx="596.5" cy="653.5" r="4.8" fill-opacity="0.022"/><circle cx="599.0" cy="653.5" r="4.8" fill-opacity="0.018"/><circle cx="601.1" cy="653.5" r="4.8" fill-opacity="0.015"/><circle cx="605.9" cy="653.5" r="4.8" fill-opacity="0.022"/><circle cx="607.9" cy="653.5" r="4.8" fill-opacity="0.014"/><circle cx="611.2" cy="653.5" r="4.8" fill-opacity="0.023"/><circle cx="614.3" cy="653.5" r="4.8" fill-opacity="0.020"/><circle cx="617.5" cy="653.5" r="4.8" fill-opacity="0.013"/><circle cx="621.4" cy="653.5" r="4.8" fill-opacity="0.021"/><circle cx="623.3" cy="653.5" r="4.8" fill-opacity="0.022"/><circle cx="627.9" cy="653.5" r="4.8" fill-opacity="0.018"/><circle cx="631.0" cy="653.5" r="4.8" fill-opacity="0.023"/><circle cx="634.8" cy="653.5" r="4.8" fill-opacity="0.021"/><circle cx="637.3" cy="653.5" r="4.8" fill-opacity="0.019"/><circle cx="640.9" cy="653.5" r="4.8" fill-opacity="0.024"/><circle cx="642.8" cy="653.5" r="4.8" fill-opacity="0.017"/><circle cx="646.9" cy="653.5" r="4.8" fill-opacity="0.019"/><circle cx="648.8" cy="653.5" r="4.8" fill-opacity="0.012"/><circle cx="653.6" cy="653.5" r="4.8" fill-opacity="0.019"/><circle cx="656.3" cy="653.5" r="4.8" fill-opacity="0.018"/><circle cx="660.1" cy="653.5" r="4.8" fill-opacity="0.014"/><circle cx="662.7" cy="653.5" r="4.8" fill-opacity="0.024"/><circle cx="666.4" cy="653.5" r="4.8" fill-opacity="0.026"/><circle cx="669.3" cy="653.5" r="4.8" fill-opacity="0.023"/><circle cx="672.2" cy="653.5" r="4.8" fill-opacity="0.024"/><circle cx="674.6" cy="653.5" r="4.8" fill-opacity="0.025"/><circle cx="677.9" cy="653.5" r="4.8" fill-opacity="0.017"/><circle cx="681.4" cy="653.5" r="4.8" fill-opacity="0.016"/><circle cx="684.0" cy="653.5" r="4.8" fill-opacity="0.016"/><circle cx="688.3" cy="653.5" r="4.8" fill-opacity="0.012"/><circle cx="691.5" cy="653.5" r="4.8" fill-opacity="0.014"/><circle cx="694.7" cy="653.5" r="4.8" fill-opacity="0.026"/><circle cx="697.7" cy="653.5" r="4.8" fill-opacity="0.017"/><circle cx="701.4" cy="653.5" r="4.8" fill-opacity="0.019"/><circle cx="704.9" cy="653.5" r="4.8" fill-opacity="0.015"/><circle cx="707.0" cy="653.5" r="4.8" fill-opacity="0.018"/><circle cx="710.7" cy="653.5" r="4.8" fill-opacity="0.020"/><circle cx="714.5" cy="653.5" r="4.8" fill-opacity="0.019"/><circle cx="717.3" cy="653.5" r="4.8" fill-opacity="0.012"/><circle cx="719.3" cy="653.5" r="4.8" fill-opacity="0.014"/><circle cx="299.0" cy="554.4" r="4.8" fill-opacity="0.078"/><circle cx="313.0" cy="554.4" r="4.8" fill-opacity="0.060"/><circle cx="317.5" cy="554.4" r="4.8" fill-opacity="0.060"/><circle cx="327.3" cy="554.4" r="4.8" fill-opacity="0.027"/><circle cx="331.4" cy="554.4" r="4.8" fill-opacity="0.026"/><circle cx="334.3" cy="554.4" r="4.8" fill-opacity="0.031"/><circle cx="337.9" cy="554.4" r="4.8" fill-opacity="0.029"/><circle cx="348.0" cy="554.4" r="4.8" fill-opacity="0.186"/><circle cx="358.0" cy="554.4" r="4.8" fill-opacity="0.186"/><circle cx="368.0" cy="554.4" r="4.8" fill-opacity="0.078"/><circle cx="376.1" cy="554.4" r="4.8" fill-opacity="0.141"/><circle cx="380.4" cy="554.4" r="4.8" fill-opacity="0.132"/><circle cx="382.7" cy="554.4" r="4.8" fill-opacity="0.119"/><circle cx="386.9" cy="554.4" r="4.8" fill-opacity="0.153"/><circle cx="389.4" cy="554.4" r="4.8" fill-opacity="0.170"/><circle cx="393.5" cy="554.4" r="4.8" fill-opacity="0.145"/><circle cx="398.0" cy="554.4" r="4.8" fill-opacity="0.155"/><circle cx="407.0" cy="554.4" r="4.8" fill-opacity="0.186"/><circle cx="412.0" cy="554.4" r="4.8" fill-opacity="0.524"/><circle cx="427.0" cy="554.4" r="4.8" fill-opacity="0.149"/><circle cx="431.0" cy="554.4" r="4.8" fill-opacity="0.222"/><circle cx="435.3" cy="554.4" r="4.8" fill-opacity="0.229"/><circle cx="447.2" cy="554.4" r="4.8" fill-opacity="0.113"/><circle cx="450.6" cy="554.4" r="4.8" fill-opacity="0.122"/><circle cx="454.6" cy="554.4" r="4.8" fill-opacity="0.112"/><circle cx="457.1" cy="554.4" r="4.8" fill-opacity="0.160"/><circle cx="468.0" cy="554.4" r="4.8" fill-opacity="0.078"/><circle cx="476.0" cy="554.4" r="4.8" fill-opacity="0.078"/><circle cx="484.6" cy="554.4" r="4.8" fill-opacity="0.105"/><circle cx="495.0" cy="554.4" r="4.8" fill-opacity="0.384"/><circle cx="505.0" cy="554.4" r="4.8" fill-opacity="0.240"/><circle cx="518.0" cy="554.4" r="4.8" fill-opacity="0.060"/><circle cx="525.0" cy="554.4" r="4.8" fill-opacity="0.240"/><circle cx="535.6" cy="554.4" r="4.8" fill-opacity="0.384"/><circle cx="550.0" cy="554.4" r="4.8" fill-opacity="0.186"/><circle cx="562.7" cy="554.4" r="4.8" fill-opacity="0.105"/><circle cx="578.0" cy="554.4" r="4.8" fill-opacity="0.132"/><circle cx="587.7" cy="554.4" r="4.8" fill-opacity="0.240"/><circle cx="597.0" cy="554.4" r="4.8" fill-opacity="0.132"/><circle cx="603.0" cy="554.4" r="4.8" fill-opacity="0.105"/><circle cx="617.0" cy="554.4" r="4.8" fill-opacity="0.060"/><circle cx="632.0" cy="554.4" r="4.8" fill-opacity="0.240"/><circle cx="642.0" cy="554.4" r="4.8" fill-opacity="0.078"/><circle cx="650.0" cy="554.4" r="4.8" fill-opacity="0.060"/><circle cx="660.6" cy="554.4" r="4.8" fill-opacity="0.060"/><circle cx="688.8" cy="554.4" r="4.8" fill-opacity="0.060"/><circle cx="708.5" cy="554.4" r="4.8" fill-opacity="0.078"/><circle cx="716.0" cy="554.4" r="4.8" fill-opacity="0.060"/><circle cx="707.0" cy="554.4" r="4.8" fill-opacity="0.060"/><circle cx="711.5" cy="554.4" r="4.8" fill-opacity="0.105"/><circle cx="729.0" cy="554.4" r="4.8" fill-opacity="0.132"/><circle cx="734.0" cy="554.4" r="4.8" fill-opacity="0.060"/><circle cx="766.7" cy="554.4" r="4.8" fill-opacity="0.060"/><circle cx="785.4" cy="554.4" r="4.8" fill-opacity="0.060"/><circle cx="820.4" cy="554.4" r="4.8" fill-opacity="0.060"/><circle cx="878.0" cy="554.4" r="4.8" fill-opacity="0.060"/><circle cx="1101.5" cy="554.4" r="4.8" fill-opacity="0.042"/><circle cx="298.0" cy="455.2" r="4.8" fill-opacity="0.060"/><circle cx="305.0" cy="455.2" r="4.8" fill-opacity="0.060"/><circle cx="316.8" cy="455.2" r="4.8" fill-opacity="0.036"/><circle cx="319.5" cy="455.2" r="4.8" fill-opacity="0.040"/><circle cx="322.2" cy="455.2" r="4.8" fill-opacity="0.028"/><circle cx="325.9" cy="455.2" r="4.8" fill-opacity="0.033"/><circle cx="335.0" cy="455.2" r="4.8" fill-opacity="0.060"/><circle cx="342.5" cy="455.2" r="4.8" fill-opacity="0.186"/><circle cx="352.0" cy="455.2" r="4.8" fill-opacity="0.060"/><circle cx="360.0" cy="455.2" r="4.8" fill-opacity="0.078"/><circle cx="367.5" cy="455.2" r="4.8" fill-opacity="0.054"/><circle cx="370.7" cy="455.2" r="4.8" fill-opacity="0.032"/><circle cx="373.6" cy="455.2" r="4.8" fill-opacity="0.030"/><circle cx="377.8" cy="455.2" r="4.8" fill-opacity="0.041"/><circle cx="382.5" cy="455.2" r="4.8" fill-opacity="0.186"/><circle cx="395.0" cy="455.2" r="4.8" fill-opacity="0.060"/><circle cx="407.4" cy="455.2" r="4.8" fill-opacity="0.051"/><circle cx="410.0" cy="455.2" r="4.8" fill-opacity="0.086"/><circle cx="413.4" cy="455.2" r="4.8" fill-opacity="0.080"/><circle cx="422.0" cy="455.2" r="4.8" fill-opacity="0.186"/><circle cx="430.0" cy="455.2" r="4.8" fill-opacity="0.060"/><circle cx="440.3" cy="455.2" r="4.8" fill-opacity="0.035"/><circle cx="442.5" cy="455.2" r="4.8" fill-opacity="0.032"/><circle cx="447.5" cy="455.2" r="4.8" fill-opacity="0.060"/><circle cx="451.1" cy="455.2" r="4.8" fill-opacity="0.050"/><circle cx="453.8" cy="455.2" r="4.8" fill-opacity="0.059"/><circle cx="456.7" cy="455.2" r="4.8" fill-opacity="0.051"/><circle cx="464.0" cy="455.2" r="4.8" fill-opacity="0.384"/><circle cx="472.0" cy="455.2" r="4.8" fill-opacity="0.105"/><circle cx="483.5" cy="455.2" r="4.8" fill-opacity="0.186"/><circle cx="495.0" cy="455.2" r="4.8" fill-opacity="0.060"/><circle cx="506.5" cy="455.2" r="4.8" fill-opacity="0.078"/><circle cx="519.0" cy="455.2" r="4.8" fill-opacity="0.105"/><circle cx="529.0" cy="455.2" r="4.8" fill-opacity="0.132"/><circle cx="538.8" cy="455.2" r="4.8" fill-opacity="0.240"/><circle cx="548.0" cy="455.2" r="4.8" fill-opacity="0.078"/><circle cx="557.5" cy="455.2" r="4.8" fill-opacity="0.105"/><circle cx="568.0" cy="455.2" r="4.8" fill-opacity="0.186"/><circle cx="573.0" cy="455.2" r="4.8" fill-opacity="0.186"/><circle cx="590.4" cy="455.2" r="4.8" fill-opacity="0.078"/><circle cx="607.5" cy="455.2" r="4.8" fill-opacity="0.060"/><circle cx="611.7" cy="455.2" r="4.8" fill-opacity="0.060"/><circle cx="630.4" cy="455.2" r="4.8" fill-opacity="0.078"/><circle cx="640.8" cy="455.2" r="4.8" fill-opacity="0.060"/><circle cx="649.0" cy="455.2" r="4.8" fill-opacity="0.060"/><circle cx="694.0" cy="455.2" r="4.8" fill-opacity="0.105"/><circle cx="716.0" cy="455.2" r="4.8" fill-opacity="0.060"/><circle cx="715.6" cy="455.2" r="4.8" fill-opacity="0.060"/><circle cx="729.0" cy="455.2" r="4.8" fill-opacity="0.060"/><circle cx="781.0" cy="455.2" r="4.8" fill-opacity="0.060"/><circle cx="801.0" cy="455.2" r="4.8" fill-opacity="0.060"/><circle cx="820.8" cy="455.2" r="4.8" fill-opacity="0.060"/><circle cx="844.8" cy="455.2" r="4.8" fill-opacity="0.060"/><circle cx="917.7" cy="455.2" r="4.8" fill-opacity="0.060"/><circle cx="316.7" cy="356.1" r="4.8" fill-opacity="0.098"/><circle cx="332.0" cy="356.1" r="4.8" fill-opacity="0.098"/><circle cx="341.7" cy="356.1" r="4.8" fill-opacity="0.098"/><circle cx="357.0" cy="356.1" r="4.8" fill-opacity="0.060"/><circle cx="371.0" cy="356.1" r="4.8" fill-opacity="0.075"/><circle cx="383.8" cy="356.1" r="4.8" fill-opacity="0.106"/><circle cx="387.0" cy="356.1" r="4.8" fill-opacity="0.131"/><circle cx="388.2" cy="356.1" r="4.8" fill-opacity="0.146"/><circle cx="392.6" cy="356.1" r="4.8" fill-opacity="0.105"/><circle cx="395.2" cy="356.1" r="4.8" fill-opacity="0.118"/><circle cx="398.9" cy="356.1" r="4.8" fill-opacity="0.128"/><circle cx="406.0" cy="356.1" r="4.8" fill-opacity="0.075"/><circle cx="414.6" cy="356.1" r="4.8" fill-opacity="0.060"/><circle cx="424.7" cy="356.1" r="4.8" fill-opacity="0.094"/><circle cx="427.8" cy="356.1" r="4.8" fill-opacity="0.101"/><circle cx="430.9" cy="356.1" r="4.8" fill-opacity="0.085"/><circle cx="434.5" cy="356.1" r="4.8" fill-opacity="0.077"/><circle cx="444.0" cy="356.1" r="4.8" fill-opacity="0.060"/><circle cx="458.0" cy="356.1" r="4.8" fill-opacity="0.060"/><circle cx="469.0" cy="356.1" r="4.8" fill-opacity="0.120"/><circle cx="481.0" cy="356.1" r="4.8" fill-opacity="0.060"/><circle cx="488.5" cy="356.1" r="4.8" fill-opacity="0.060"/><circle cx="500.0" cy="356.1" r="4.8" fill-opacity="0.098"/><circle cx="508.0" cy="356.1" r="4.8" fill-opacity="0.060"/><circle cx="519.0" cy="356.1" r="4.8" fill-opacity="0.098"/><circle cx="529.0" cy="356.1" r="4.8" fill-opacity="0.098"/><circle cx="555.6" cy="356.1" r="4.8" fill-opacity="0.060"/><circle cx="562.0" cy="356.1" r="4.8" fill-opacity="0.075"/><circle cx="574.0" cy="356.1" r="4.8" fill-opacity="0.098"/><circle cx="585.0" cy="356.1" r="4.8" fill-opacity="0.060"/><circle cx="595.0" cy="356.1" r="4.8" fill-opacity="0.120"/><circle cx="608.0" cy="356.1" r="4.8" fill-opacity="0.060"/><circle cx="617.0" cy="356.1" r="4.8" fill-opacity="0.098"/><circle cx="636.0" cy="356.1" r="4.8" fill-opacity="0.098"/><circle cx="645.0" cy="356.1" r="4.8" fill-opacity="0.060"/><circle cx="652.5" cy="356.1" r="4.8" fill-opacity="0.120"/><circle cx="663.0" cy="356.1" r="4.8" fill-opacity="0.060"/><circle cx="695.0" cy="356.1" r="4.8" fill-opacity="0.060"/><circle cx="710.0" cy="356.1" r="4.8" fill-opacity="0.060"/><circle cx="724.4" cy="356.1" r="4.8" fill-opacity="0.068"/><circle cx="727.1" cy="356.1" r="4.8" fill-opacity="0.055"/><circle cx="731.9" cy="356.1" r="4.8" fill-opacity="0.064"/><circle cx="734.6" cy="356.1" r="4.8" fill-opacity="0.067"/><circle cx="736.1" cy="356.1" r="4.8" fill-opacity="0.051"/><circle cx="752.5" cy="356.1" r="4.8" fill-opacity="0.060"/><circle cx="807.9" cy="356.1" r="4.8" fill-opacity="0.060"/><circle cx="846.5" cy="356.1" r="4.8" fill-opacity="0.060"/><circle cx="856.0" cy="356.1" r="4.8" fill-opacity="0.060"/><circle cx="877.5" cy="356.1" r="4.8" fill-opacity="0.060"/><circle cx="902.0" cy="356.1" r="4.8" fill-opacity="0.060"/><circle cx="1089.7" cy="356.1" r="4.8" fill-opacity="0.060"/><circle cx="360.6" cy="257.0" r="4.8" fill-opacity="0.060"/><circle cx="368.5" cy="257.0" r="4.8" fill-opacity="0.060"/><circle cx="379.6" cy="257.0" r="4.8" fill-opacity="0.060"/><circle cx="405.0" cy="257.0" r="4.8" fill-opacity="0.060"/><circle cx="412.8" cy="257.0" r="4.8" fill-opacity="0.080"/><circle cx="430.0" cy="257.0" r="4.8" fill-opacity="0.110"/><circle cx="443.0" cy="257.0" r="4.8" fill-opacity="0.060"/><circle cx="450.8" cy="257.0" r="4.8" fill-opacity="0.140"/><circle cx="470.5" cy="257.0" r="4.8" fill-opacity="0.140"/><circle cx="485.0" cy="257.0" r="4.8" fill-opacity="0.140"/><circle cx="491.4" cy="257.0" r="4.8" fill-opacity="0.060"/><circle cx="511.0" cy="257.0" r="4.8" fill-opacity="0.110"/><circle cx="514.0" cy="257.0" r="4.8" fill-opacity="0.080"/><circle cx="531.6" cy="257.0" r="4.8" fill-opacity="0.110"/><circle cx="534.7" cy="257.0" r="4.8" fill-opacity="0.060"/><circle cx="552.0" cy="257.0" r="4.8" fill-opacity="0.060"/><circle cx="566.4" cy="257.0" r="4.8" fill-opacity="0.060"/><circle cx="580.7" cy="257.0" r="4.8" fill-opacity="0.060"/><circle cx="590.0" cy="257.0" r="4.8" fill-opacity="0.060"/><circle cx="602.8" cy="257.0" r="4.8" fill-opacity="0.080"/><circle cx="607.6" cy="257.0" r="4.8" fill-opacity="0.080"/><circle cx="625.0" cy="257.0" r="4.8" fill-opacity="0.060"/><circle cx="645.6" cy="257.0" r="4.8" fill-opacity="0.110"/><circle cx="664.6" cy="257.0" r="4.8" fill-opacity="0.060"/><circle cx="683.6" cy="257.0" r="4.8" fill-opacity="0.060"/><circle cx="699.4" cy="257.0" r="4.8" fill-opacity="0.060"/><circle cx="856.0" cy="257.0" r="4.8" fill-opacity="0.060"/><circle cx="358.0" cy="157.9" r="4.8" fill-opacity="0.060"/><circle cx="363.4" cy="157.9" r="4.8" fill-opacity="0.080"/><circle cx="380.5" cy="157.9" r="4.8" fill-opacity="0.060"/><circle cx="389.5" cy="157.9" r="4.8" fill-opacity="0.110"/><circle cx="397.0" cy="157.9" r="4.8" fill-opacity="0.060"/><circle cx="407.5" cy="157.9" r="4.8" fill-opacity="0.060"/><circle cx="430.0" cy="157.9" r="4.8" fill-opacity="0.060"/><circle cx="442.0" cy="157.9" r="4.8" fill-opacity="0.060"/><circle cx="496.0" cy="157.9" r="4.8" fill-opacity="0.110"/><circle cx="529.0" cy="157.9" r="4.8" fill-opacity="0.060"/><circle cx="535.0" cy="157.9" r="4.8" fill-opacity="0.060"/><circle cx="547.0" cy="157.9" r="4.8" fill-opacity="0.060"/><circle cx="551.7" cy="157.9" r="4.8" fill-opacity="0.110"/><circle cx="557.7" cy="157.9" r="4.8" fill-opacity="0.060"/><circle cx="605.8" cy="157.9" r="4.8" fill-opacity="0.110"/><circle cx="614.7" cy="157.9" r="4.8" fill-opacity="0.060"/><circle cx="625.0" cy="157.9" r="4.8" fill-opacity="0.060"/><circle cx="684.8" cy="157.9" r="4.8" fill-opacity="0.060"/><circle cx="997.6" cy="157.9" r="4.8" fill-opacity="0.060"/><circle cx="411.7" cy="58.8" r="4.8" fill-opacity="0.060"/><circle cx="425.0" cy="58.8" r="4.8" fill-opacity="0.060"/><circle cx="435.0" cy="58.8" r="4.8" fill-opacity="0.060"/><circle cx="455.8" cy="58.8" r="4.8" fill-opacity="0.060"/><circle cx="508.0" cy="58.8" r="4.8" fill-opacity="0.060"/><circle cx="566.7" cy="58.8" r="4.8" fill-opacity="0.060"/><circle cx="579.7" cy="58.8" r="4.8" fill-opacity="0.060"/><circle cx="627.5" cy="58.8" r="4.8" fill-opacity="0.060"/><circle cx="700.8" cy="58.8" r="4.8" fill-opacity="0.060"/></g>
<path d="M244.5 1007.0 L260.0 1006.0 L275.0 1005.0 L287.0 1003.0 L296.0 998.0 L302.0 992.0 L308.0 984.0 L311.0 976.0 L315.0 979.0 L318.0 970.0 L323.0 965.0 L328.0 973.0 L331.0 963.0 L335.0 964.0 L336.0 953.0 L340.0 944.0 L345.0 946.0 L349.0 955.0 L353.0 966.0 L355.0 955.0 L356.0 930.0 L360.0 927.0 L362.0 932.0 L363.0 949.0 L367.0 934.0 L369.0 940.0 L371.0 952.0 L375.0 948.0 L377.0 926.0 L379.0 920.0 L381.0 932.0 L385.0 918.0 L387.0 920.0 L390.0 924.0 L392.0 926.0 L393.0 955.0 L397.0 956.0 L399.0 940.0 L402.0 924.0 L405.0 922.0 L406.0 934.0 L410.0 911.0 L415.0 916.0 L417.0 928.0 L419.0 947.0 L423.0 935.0 L426.0 922.0 L426.0 908.0 L429.0 897.0 L434.0 899.0 L436.0 908.0 L436.0 924.0 L439.0 910.0 L445.0 922.0 L451.0 916.0 L451.0 892.0 L456.0 884.0 L458.0 898.0 L461.0 902.0 L464.0 916.0 L468.0 920.0 L470.0 896.0 L473.0 900.0 L474.0 912.0 L478.0 904.0 L481.0 922.0 L485.0 920.0 L487.0 910.0 L489.0 892.0 L493.0 890.0 L497.0 892.0 L499.0 902.0 L501.0 914.0 L507.0 914.0 L509.0 897.0 L512.0 895.0 L515.0 906.0 L517.0 900.0 L519.0 890.0 L524.0 886.0 L525.0 878.0 L529.0 870.0 L529.0 863.0 L534.0 857.0 L537.0 856.0 L538.0 869.0 L541.0 870.0 L545.0 860.0 L547.0 861.0 L551.0 867.0 L553.0 877.0 L559.0 877.0 L563.0 869.0 L568.0 872.0 L570.0 865.0 L572.0 858.0 L576.0 854.0 L578.0 866.0 L581.0 848.0 L585.0 844.0 L588.0 839.0 L590.0 850.0 L592.0 844.0 L595.0 849.0 L595.0 857.0 L600.0 862.0 L602.0 873.0 L606.0 872.0 L612.0 869.0 L617.0 864.0 L620.0 865.0 L624.0 868.0 L628.0 861.0 L632.0 869.0 L635.0 862.0 L640.0 858.0 L644.0 868.0 L650.0 864.0 L654.0 857.0 L656.0 849.0 L661.0 845.0 L665.0 843.0 L670.0 847.0 L673.0 844.0 L678.0 842.0 L683.0 846.0 L686.0 846.0 L691.0 849.0 L695.0 842.0 L699.0 838.0 L702.0 841.0 L720.0 840.0 L740.0 837.5 L760.0 835.5 L780.0 834.0 L800.0 833.5 L866.7 831.3 L926.7 829.7 L1000.0 827.5 L1043.0 827.3 L1101.0 826.8" stroke="#ff0000" stroke-width="5.1" fill="none" stroke-linecap="round" stroke-linejoin="round"/>
<path d="M302.0 992.0 L308.0 984.0 L311.0 976.0 L315.0 979.0 L318.0 970.0 L323.0 965.0 L328.0 973.0 L331.0 963.0 L335.0 964.0 L336.0 953.0 L340.0 944.0 L345.0 946.0 L349.0 955.0 L353.0 966.0 L355.0 955.0 L356.0 930.0 L360.0 927.0 L362.0 932.0 L363.0 949.0 L367.0 934.0 L369.0 940.0 L371.0 952.0 L375.0 948.0 L377.0 926.0 L379.0 920.0 L381.0 932.0 L385.0 918.0 L387.0 920.0 L390.0 924.0 L392.0 926.0 L393.0 955.0 L397.0 956.0 L399.0 940.0 L402.0 924.0 L405.0 922.0 L406.0 934.0 L410.0 911.0 L415.0 916.0 L417.0 928.0 L419.0 947.0 L423.0 935.0 L426.0 922.0 L426.0 908.0 L429.0 897.0 L434.0 899.0 L436.0 908.0 L436.0 924.0 L439.0 910.0 L445.0 922.0 L451.0 916.0 L451.0 892.0 L456.0 884.0 L458.0 898.0 L461.0 902.0 L464.0 916.0 L468.0 920.0 L470.0 896.0 L473.0 900.0 L474.0 912.0 L478.0 904.0 L481.0 922.0 L485.0 920.0 L487.0 910.0 L489.0 892.0 L493.0 890.0 L497.0 892.0 L499.0 902.0 L501.0 914.0 L507.0 914.0 L509.0 897.0 L512.0 895.0 L515.0 906.0 L517.0 900.0 L519.0 890.0 L524.0 886.0 L525.0 878.0 L529.0 870.0 L529.0 863.0 L534.0 857.0 L537.0 856.0 L538.0 869.0 L541.0 870.0 L545.0 860.0 L547.0 861.0 L551.0 867.0 L553.0 877.0 L559.0 877.0 L563.0 869.0 L568.0 872.0 L570.0 865.0 L572.0 858.0 L576.0 854.0 L578.0 866.0 L581.0 848.0 L585.0 844.0 L588.0 839.0 L590.0 850.0 L592.0 844.0 L595.0 849.0 L595.0 857.0 L600.0 862.0 L602.0 873.0 L606.0 872.0 L612.0 869.0 L617.0 864.0 L620.0 865.0 L624.0 868.0 L628.0 861.0 L632.0 869.0 L635.0 862.0 L640.0 858.0 L644.0 868.0 L650.0 864.0 L654.0 857.0 L656.0 849.0 L661.0 845.0 L665.0 843.0 L670.0 847.0 L673.0 844.0 L678.0 842.0 L683.0 846.0 L686.0 846.0 L691.0 849.0 L695.0 842.0 L699.0 838.0 L702.0 841.0" stroke="#ff0000" stroke-width="6.8" fill="none" stroke-linecap="round" stroke-linejoin="round"/>
<path d="M104.33 1102.29 L109.64 1098.49 L114.94 1094.71 L120.25 1090.96 L125.56 1087.24 L130.86 1083.54 L136.17 1079.87 L141.48 1076.23 L146.78 1072.61 L152.09 1069.02 L157.40 1065.46 L162.70 1061.92 L168.01 1058.41 L173.32 1054.93 L178.62 1051.47 L183.93 1048.04 L189.24 1044.64 L194.54 1041.26 L199.85 1037.91 L205.15 1034.59 L210.46 1031.30 L215.77 1028.03 L221.07 1024.79 L226.38 1021.57 L231.69 1018.38 L236.99 1015.22 L242.30 1012.08 L247.61 1008.98 L252.91 1005.89 L258.22 1002.84 L263.53 999.81 L268.83 996.81 L274.14 993.84 L279.45 990.89 L284.75 987.97 L290.06 985.07 L295.37 982.21 L300.67 979.36 L305.98 976.55 L311.29 973.76 L316.59 971.00 L321.90 968.27 L327.21 965.56 L332.51 962.88 L337.82 960.23 L343.13 957.60 L348.43 955.00 L353.74 952.43 L359.05 949.88 L364.35 947.36 L369.66 944.87 L374.96 942.40 L380.27 939.97 L385.58 937.55 L390.88 935.17 L396.19 932.81 L401.50 930.48 L406.80 928.17 L412.11 925.89 L417.42 923.64 L422.72 921.41 L428.03 919.22 L433.34 917.04 L438.64 914.90 L443.95 912.78 L449.26 910.69 L454.56 908.63 L459.87 906.59 L465.18 904.58 L470.48 902.59 L475.79 900.63 L481.10 898.70 L486.40 896.80 L491.71 894.92 L497.02 893.07 L502.32 891.25 L507.63 889.45 L512.94 887.68 L518.24 885.94 L523.55 884.22 L528.86 882.53 L534.16 880.87 L539.47 879.23 L544.77 877.62 L550.08 876.04 L555.39 874.48 L560.69 872.95 L566.00 871.45 L571.31 869.97 L576.61 868.53 L581.92 867.10 L587.23 865.71 L592.53 864.34 L597.84 863.00 L603.15 861.68 L608.45 860.39 L613.76 859.13 L619.07 857.90 L624.37 856.69 L629.68 855.51 L634.99 854.35 L640.29 853.22 L645.60 852.12 L650.91 851.05 L656.21 850.00 L661.52 848.98 L666.83 847.98 L672.13 847.02 L677.44 846.08 L682.75 845.16 L688.05 844.28 L693.36 843.42 L698.67 842.58 L703.97 841.78 L709.28 840.99 L714.58 840.24 L719.89 839.52 L725.20 838.82 L730.50 838.14 L735.81 837.50 L741.12 836.88 L746.42 836.28 L751.73 835.72 L757.04 835.18 L762.34 834.67 L767.65 834.18 L772.96 833.72 L778.26 833.29 L783.57 832.88 L788.88 832.51 L794.18 832.15 L799.49 831.83 L804.80 831.53 L810.10 831.26 L815.41 831.01 L820.72 830.80 L826.02 830.60 L831.33 830.44 L836.64 830.30 L841.94 830.19 L847.25 830.11 L852.56 830.05 L857.86 830.02 L863.17 830.01 L868.48 830.04 L873.78 830.09 L879.09 830.16 L884.39 830.27 L889.70 830.40 L895.01 830.55 L900.31 830.74 L905.62 830.95 L910.93 831.18 L916.23 831.45 L921.54 831.74 L926.85 832.05 L932.15 832.40 L937.46 832.77 L942.77 833.17 L948.07 833.59 L953.38 834.04 L958.69 834.52 L963.99 835.02 L969.30 835.55 L974.61 836.11 L979.91 836.70 L985.22 837.31 L990.53 837.95 L995.83 838.61 L1001.14 839.30 L1006.45 840.02 L1011.75 840.77 L1017.06 841.54 L1022.37 842.34 L1027.67 843.16 L1032.98 844.02 L1038.29 844.90 L1043.59 845.80 L1048.90 846.73 L1054.20 847.69 L1059.51 848.68 L1064.82 849.69 L1070.12 850.73 L1075.43 851.80 L1080.74 852.89 L1086.04 854.01 L1091.35 855.16 L1096.66 856.33 L1101.96 857.53 L1107.27 858.76 L1112.58 860.01 L1117.88 861.29 L1123.19 862.60 L1128.50 863.94 L1133.80 865.30 L1139.11 866.68 L1144.42 868.10 L1149.72 869.54 L1155.03 871.01 L1160.34 872.50" stroke="#0000ff" stroke-width="4.7" fill="none" stroke-dasharray="16.96 7.33"/>
</g>
<rect x="104.45" y="59.50" width="1055.95" height="1040.85" fill="none" stroke="#cccccc" stroke-width="2.5"/>
<text x="104.33" y="1135.5" font-size="22.92" text-anchor="middle">0</text>
<text x="221.66" y="1135.5" font-size="22.92" text-anchor="middle">2</text>
<text x="339.00" y="1135.5" font-size="22.92" text-anchor="middle">4</text>
<text x="456.33" y="1135.5" font-size="22.92" text-anchor="middle">6</text>
<text x="573.67" y="1135.5" font-size="22.92" text-anchor="middle">8</text>
<text x="691.00" y="1135.5" font-size="22.92" text-anchor="middle">10</text>
<text x="808.33" y="1135.5" font-size="22.92" text-anchor="middle">12</text>
<text x="925.67" y="1135.5" font-size="22.92" text-anchor="middle">14</text>
<text x="1043.00" y="1135.5" font-size="22.92" text-anchor="middle">16</text>
<text x="1160.34" y="1135.5" font-size="22.92" text-anchor="middle">18</text>
<text x="84.8" y="1057.00" font-size="22.92" text-anchor="end">0</text>
<text x="84.8" y="858.75" font-size="22.92" text-anchor="end">2</text>
<text x="84.8" y="660.50" font-size="22.92" text-anchor="end">4</text>
<text x="84.8" y="462.25" font-size="22.92" text-anchor="end">6</text>
<text x="84.8" y="264.00" font-size="22.92" text-anchor="end">8</text>
<text x="84.8" y="65.75" font-size="22.92" text-anchor="end">10</text>
<text x="632" y="45.7" font-size="25.04" text-anchor="middle">Облако без выбросов + тренд orders_amt_total vs avg_imp_per_day</text>
<text x="632.5" y="1165.5" font-size="25" text-anchor="middle">Среднее число показов в день</text>
<text transform="translate(44.5 580.6) rotate(-90)" x="0" y="0" font-size="25" text-anchor="middle">orders_amt_total</text>
<rect x="121.3" y="106.8" width="206.4" height="109.1" rx="4.5" fill="#fff" fill-opacity="0.8" stroke="#aaaaaa" stroke-width="2.2"/>
<text x="126" y="124.05" font-size="18.75">R2_trend=0.918</text>
<text x="126" y="144.60" font-size="18.75">AUC=0.601</text>
<text x="126" y="165.30" font-size="18.75">b1=0.426 (p=5.19e-16)</text>
<text x="126" y="185.50" font-size="18.75">b2=-0.017 (p=1.31e-05)</text>
<text x="126" y="206.60" font-size="18.75">n=8318</text>
<rect x="882" y="70" width="267" height="70" rx="5" fill="#fff" fill-opacity="0.8" stroke="#cccccc" stroke-width="1.8"/>
<path d="M891.5 87.5H937.5" stroke="#ff0000" stroke-width="5.1" stroke-linecap="round"/>
<path d="M891.4 119.4H937.5" stroke="#0000ff" stroke-width="4.7" stroke-dasharray="16.96 7.33"/>
<text x="955.7" y="93.8" font-size="22.92">savgol тренд</text>
<text x="955.7" y="126.5" font-size="22.92">Квадр. регрессия</text>
</svg></body></html>
